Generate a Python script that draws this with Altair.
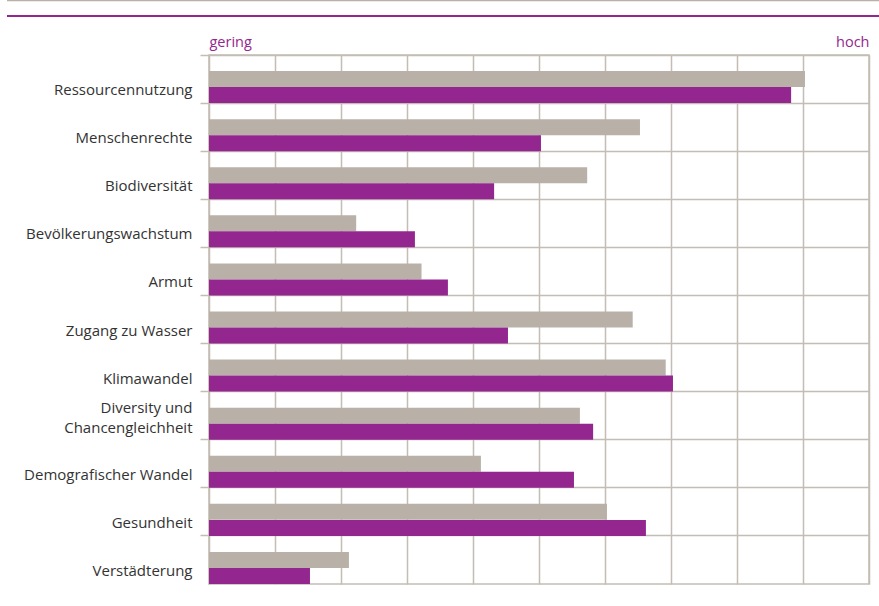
import altair as alt
import pandas as pd

categories = [
    "Ressourcennutzung", "Menschenrechte", "Biodiversität", "Bevölkerungswachstum",
    "Armut", "Zugang zu Wasser", "Klimawandel", "Diversity und Chancengleichheit",
    "Demografischer Wandel", "Gesundheit", "Verstädterung",
]
series_names = ["Reihe 1", "Reihe 2"]
gray_vals = [9.03, 6.53, 5.73, 2.23, 3.22, 6.42, 6.92, 5.62, 4.12, 6.03, 2.12]
purple_vals = [8.82, 5.03, 4.32, 3.12, 3.62, 4.53, 7.03, 5.82, 5.53, 6.62, 1.53]
scale_ticks = list(range(0, 11))
scale_end_labels = ["gering", "hoch"]

GRAY = "#b9b1a7"
PURPLE = "#93278f"
GRID = "#c4bdb4"
FONT = "Open Sans"

rows = []
for c, g, p in zip(categories, gray_vals, purple_vals):
    rows.append({"kategorie": c, "serie": series_names[0], "wert": g})
    rows.append({"kategorie": c, "serie": series_names[1], "wert": p})
df = pd.DataFrame(rows)

label_expr_x = (
    f"datum.value == 0 ? '{scale_end_labels[0]}' : "
    f"(datum.value == 10 ? '{scale_end_labels[1]}' : '')"
)
label_expr_y = (
    "datum.label == 'Diversity und Chancengleichheit' ? "
    "['Diversity und', 'Chancengleichheit'] : datum.label"
)

bars = alt.Chart(df).mark_bar(size=16).encode(
    x=alt.X(
        "wert:Q",
        scale=alt.Scale(domain=[0, 10], nice=False, zero=True),
        axis=alt.Axis(
            orient="top", values=scale_ticks, labelExpr=label_expr_x, title=None,
            grid=True, gridColor=GRID, gridWidth=1.5, ticks=False, domain=False,
            labelFlush=True, labelColor=PURPLE, labelFont=FONT, labelFontSize=14.5,
            labelPadding=6,
        ),
    ),
    y=alt.Y(
        "kategorie:N", sort=categories,
        scale=alt.Scale(paddingInner=0, paddingOuter=0),
        axis=alt.Axis(
            title=None, bandPosition=0, grid=True, gridColor=GRID, gridWidth=1.5,
            ticks=True, tickColor=GRID, tickSize=9, tickWidth=1.5, domain=False,
            labelExpr=label_expr_y, labelFont=FONT, labelFontSize=15,
            labelColor="#333333", labelPadding=8, labelLineHeight=20,
            labelOffset={"condition": {"test": "datum.value == 'Diversity und Chancengleichheit'", "value": -8}, "value": 11},
        ),
    ),
    yOffset=alt.YOffset(
        "serie:N",
        scale=alt.Scale(domain=["_leer"] + series_names, paddingInner=0, paddingOuter=0),
    ),
    color=alt.Color(
        "serie:N",
        scale=alt.Scale(domain=series_names, range=[GRAY, PURPLE]),
        legend=None,
    ),
)

one = pd.DataFrame({"a": [0]})
top_gray = alt.Chart(one).mark_rule(color=GRAY, strokeWidth=1.5).encode(
    x=alt.value(-202), x2=alt.value(670), y=alt.value(-54.5)
)
top_purple = alt.Chart(one).mark_rule(color=PURPLE, strokeWidth=2).encode(
    x=alt.value(-202), x2=alt.value(670), y=alt.value(-39)
)

chart = alt.layer(bars, top_gray, top_purple).properties(
    width=660, height=529,
    padding={"left": 209, "top": 55, "right": 10, "bottom": 22},
    autosize=alt.AutoSizeParams(type="none"),
    background="white",
).configure_view(stroke=GRID, strokeWidth=1.5)

chart.save("out.html", embed_options={"renderer": "svg", "actions": False})
